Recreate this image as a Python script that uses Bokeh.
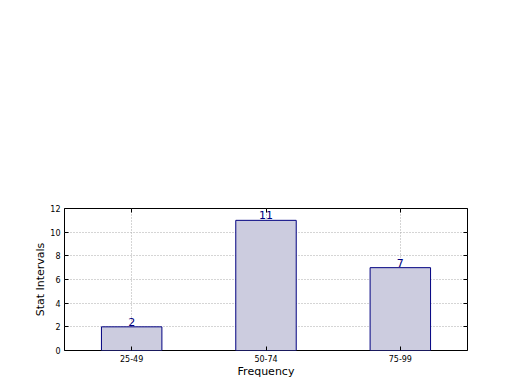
from bokeh.plotting import figure
from bokeh.models import Range1d, LinearAxis, FixedTicker, ColumnDataSource
from bokeh.core.properties import value
from bokeh.embed import file_html
from bokeh.resources import INLINE

categories = ["25-49", "50-74", "75-99"]
counts = [2, 11, 7]
y_ticks = [0, 2, 4, 6, 8, 10, 12]

xpos = [i + 0.5 for i in range(len(categories))]
src = ColumnDataSource(dict(x=xpos, top=counts, label=[str(c) for c in counts]))

p = figure(width=512, height=382, x_range=Range1d(0, len(categories)),
           y_range=Range1d(0, 12), output_backend="svg", toolbar_location=None,
           min_border_left=64, min_border_right=45, min_border_top=208, min_border_bottom=32)
p.vbar(x="x", top="top", width=0.45, source=src, fill_color="#ccccdf",
       line_color="#000080", line_width=1)
p.text(x="x", y="top", text="label", source=src, text_align="center", text_baseline="bottom",
       text_color="#000080", text_font=value("DejaVu Sans"), text_font_size="11px", y_offset=-1)

p.outline_line_color = "black"
p.outline_line_width = 1
p.background_fill_color = "white"

for ax in (p.xaxis[0], p.yaxis[0]):
    ax.major_tick_in = 4
    ax.major_tick_out = 0
    ax.minor_tick_in = 0
    ax.minor_tick_out = 0
    ax.axis_line_color = None
    ax.major_tick_line_color = "black"
    ax.major_label_text_font = "DejaVu Sans"
    ax.major_label_text_font_size = "8px"
    ax.major_label_text_color = "black"
    ax.axis_label_text_font = "DejaVu Sans"
    ax.axis_label_text_font_size = "11px"
    ax.axis_label_text_font_style = "normal"
    ax.axis_label_text_color = "black"
    ax.major_label_standoff = 4

p.yaxis[0].ticker = FixedTicker(ticks=y_ticks)
p.xaxis[0].ticker = FixedTicker(ticks=xpos)
p.xaxis[0].major_label_overrides = {x: c for x, c in zip(xpos, categories)}
p.xaxis[0].axis_label = "Frequency"
p.yaxis[0].axis_label = "Stat Intervals"
p.xaxis[0].axis_label_standoff = 0
p.yaxis[0].axis_label_standoff = 0

p.xgrid.grid_line_color = "#aaaaaa"
p.ygrid.grid_line_color = "#aaaaaa"
p.xgrid.grid_line_dash = "1 2"
p.ygrid.grid_line_dash = "1 2"
p.xgrid.grid_line_width = 1
p.ygrid.grid_line_width = 1

ra = LinearAxis(ticker=FixedTicker(ticks=y_ticks),
                major_label_overrides={t: "" for t in y_ticks},
                major_tick_in=4, major_tick_out=0, minor_tick_in=0, minor_tick_out=0,
                major_tick_line_color="black", axis_line_color=None, major_label_standoff=0)
p.add_layout(ra, "right")
ta = LinearAxis(ticker=FixedTicker(ticks=xpos),
                major_label_overrides={t: "" for t in xpos},
                major_tick_in=4, major_tick_out=0, minor_tick_in=0, minor_tick_out=0,
                major_tick_line_color="black", axis_line_color=None, major_label_standoff=0)
p.add_layout(ta, "above")

open("out.html", "w").write(file_html(p, INLINE))
